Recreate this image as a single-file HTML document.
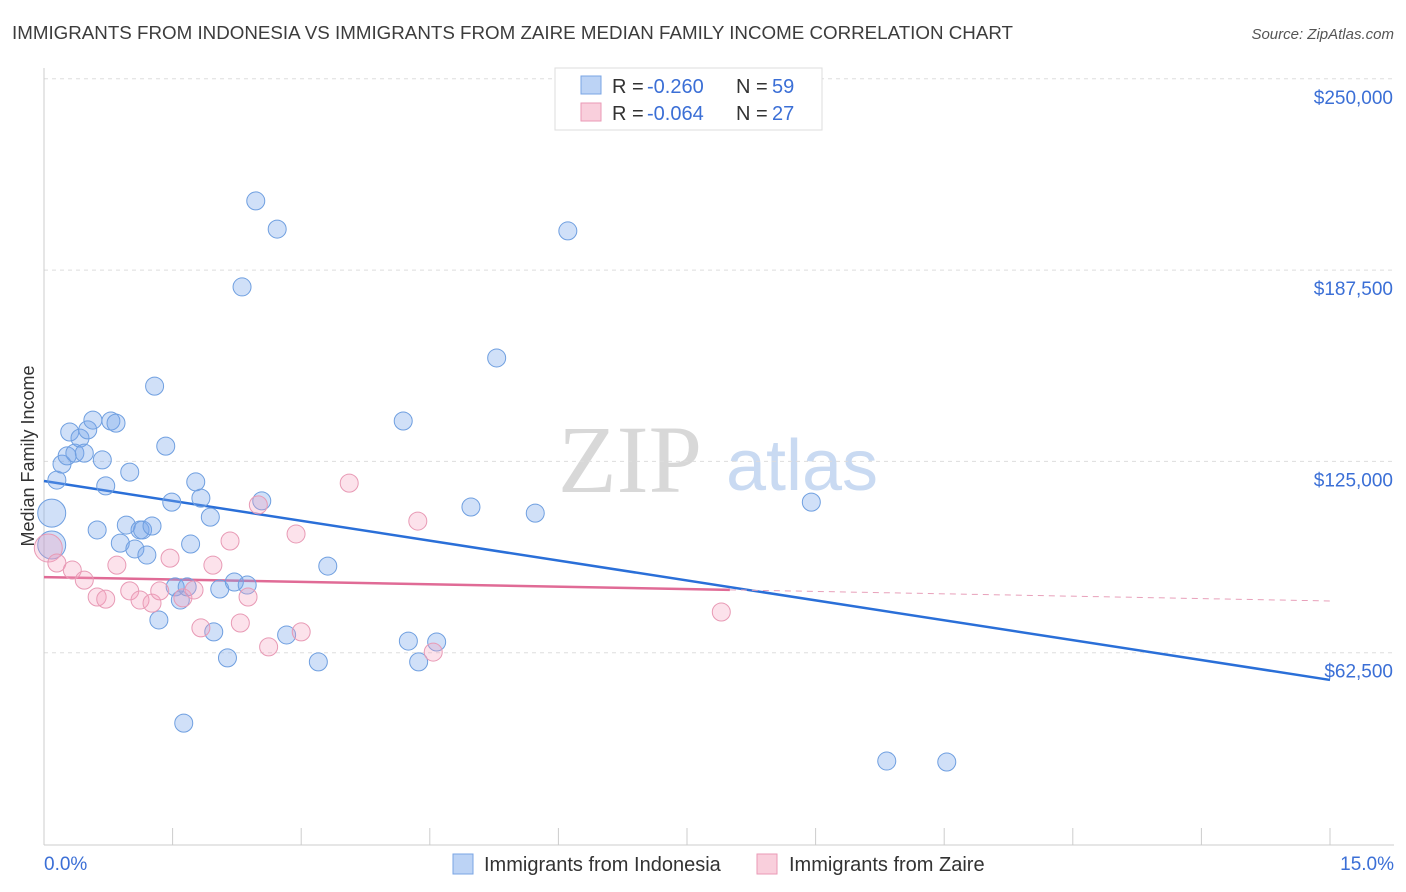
<!DOCTYPE html>
<html><head><meta charset="utf-8"><style>
body{margin:0;background:#fff;font-family:"Liberation Sans",sans-serif;}
svg{display:block}
</style></head><body>
<svg id="chart" width="1406" height="892">
<text x="12" y="39" font-size="18" fill="#3c3c3c" textLength="1001" lengthAdjust="spacingAndGlyphs">IMMIGRANTS FROM INDONESIA VS IMMIGRANTS FROM ZAIRE MEDIAN FAMILY INCOME CORRELATION CHART</text>
<text x="1394" y="39" font-size="15" fill="#555" font-style="italic" text-anchor="end">Source: ZipAtlas.com</text>
<text x="630" y="492" font-size="96" fill="#d8d8d8" font-family="Liberation Serif" text-anchor="middle">ZIP</text>
<text x="802" y="490" font-size="72" fill="#c9daf2" text-anchor="middle">atlas</text>
<text transform="translate(34,456) rotate(-90)" font-size="18" fill="#333" text-anchor="middle">Median Family Income</text>
<g id="grid"></g><g id="axes"></g><g id="trends"></g><g id="pts"></g>
<g>
<rect x="555" y="68" width="267" height="62" fill="#fff" stroke="#ddd"/>
<rect x="581" y="76" width="20" height="18" fill="#bcd3f5" stroke="#7aa4e4"/>
<text y="93" font-size="20" fill="#333"><tspan x="612">R =</tspan><tspan x="647" fill="#3b6fd6">-0.260</tspan><tspan x="736">N =</tspan><tspan x="772" fill="#3b6fd6">59</tspan></text>
<rect x="581" y="103" width="20" height="18" fill="#f9cfdc" stroke="#ea9ab6"/>
<text y="120" font-size="20" fill="#333"><tspan x="612">R =</tspan><tspan x="647" fill="#3b6fd6">-0.064</tspan><tspan x="736">N =</tspan><tspan x="772" fill="#3b6fd6">27</tspan></text>
</g>
<g>
<rect x="453" y="854" width="20" height="20" fill="#bcd3f5" stroke="#7aa4e4"/>
<text x="484" y="871" font-size="20" fill="#333">Immigrants from Indonesia</text>
<rect x="757" y="854" width="20" height="20" fill="#f9cfdc" stroke="#ea9ab6"/>
<text x="789" y="871" font-size="20" fill="#333">Immigrants from Zaire</text>
</g>
</svg>
<script>
const blueX=[0.09,0.09,0.15,0.21,0.27,0.30,0.36,0.42,0.47,0.51,0.57,0.62,0.68,0.72,0.78,0.84,0.89,0.96,1.00,1.06,1.12,1.15,1.20,1.26,1.29,1.34,1.42,1.49,1.53,1.59,1.63,1.67,1.71,1.77,1.83,1.94,1.98,2.05,2.14,2.22,2.31,2.37,2.47,2.54,2.72,2.83,3.20,3.31,4.19,4.25,4.37,4.58,4.98,5.28,5.73,6.11,8.95,9.83,10.53];
const blueY=[108100,97700,118900,124100,126800,134600,127700,132600,127700,135300,138500,102600,125500,117000,138200,137500,98300,104200,121500,96400,102600,102600,94400,103900,149600,73200,130000,111700,84000,79700,39500,84000,98000,118300,113000,106800,69300,83300,60800,85600,182000,84600,210100,112100,200900,68300,59500,90800,138200,66300,59500,66000,110100,158800,108100,200300,111700,27100,26800];
const pinkX=[0.05,0.15,0.33,0.47,0.62,0.72,0.85,1.00,1.12,1.26,1.35,1.47,1.62,1.75,1.83,1.97,2.17,2.29,2.38,2.50,2.62,2.94,3.00,3.56,4.36,4.54,7.90];
const pinkY=[96700,91800,89500,86200,80700,80000,91100,82700,79700,78700,82700,93400,80400,83000,70600,91100,99000,72200,80700,110800,64400,101300,69300,117900,105500,62700,75800];
const yTicks=[62500,125000,187500,250000];
const yTickLabels=["$62,500","$125,000","$187,500","$250,000"];
const blueTrend=[118600,53600];
const pinkTrend=[87200,79400];
const pinkSolidEnd=8.0;
const NS="http://www.w3.org/2000/svg";
const sx=p=>44+p/15*1286;
const sy=v=>844-v/62500*191.3;
function mk(t,a,parent){const e=document.createElementNS(NS,t);for(const k in a)e.setAttribute(k,a[k]);document.getElementById(parent).appendChild(e);return e;}
yTicks.forEach((v,i)=>{
 const l=mk('line',{x1:44,x2:1394,y1:sy(v),y2:sy(v),stroke:'#ddd','stroke-dasharray':'4,4'},'grid');
 
 
 const t=mk('text',{x:1393,y:sy(v)+25,'font-size':19,fill:'#3b6fd6','text-anchor':'end'},'grid');
 t.textContent=yTickLabels[i];
 
 
});
mk('line',{x1:44,x2:44,y1:68,y2:845,stroke:'#ccc'},'axes');
mk('line',{x1:44,x2:1394,y1:845,y2:845,stroke:'#ccc'},'axes');
for(let i=0;i<=10;i++){mk('line',{x1:sx(i*1.5),x2:sx(i*1.5),y1:828,y2:845,stroke:'#ccc'},'axes');}
let t0=mk('text',{x:44,y:870,'font-size':19,fill:'#3b6fd6'},'axes');t0.textContent='0.0%';


let t1=mk('text',{x:1394,y:870,'font-size':19,fill:'#3b6fd6','text-anchor':'end'},'axes');t1.textContent='15.0%';


blueX.forEach((x,i)=>{
 const r=(i<2)?14:9;
 const c=mk('circle',{cx:sx(x),cy:sy(blueY[i]),r:r,fill:'rgba(120,165,235,0.35)',stroke:'#6f9fe0','stroke-width':1},'pts');
 
 
});
pinkX.forEach((x,i)=>{
 const r=(i<1)?14:9;
 const c=mk('circle',{cx:sx(x),cy:sy(pinkY[i]),r:r,fill:'rgba(245,160,190,0.3)',stroke:'#e89ab5','stroke-width':1},'pts');
 
 
});
const bl=mk('line',{x1:sx(0),y1:sy(blueTrend[0]),x2:sx(15),y2:sy(blueTrend[1]),stroke:'#2a6fd8','stroke-width':2.5},'trends');


const pm=pinkTrend[0]+(pinkTrend[1]-pinkTrend[0])*pinkSolidEnd/15;
const pl=mk('line',{x1:sx(0),y1:sy(pinkTrend[0]),x2:sx(pinkSolidEnd),y2:sy(pm),stroke:'#e06b96','stroke-width':2.5},'trends');


const pd=mk('line',{x1:sx(pinkSolidEnd),y1:sy(pm),x2:sx(15),y2:sy(pinkTrend[1]),stroke:'#e8a0ba','stroke-width':1,'stroke-dasharray':'6,5'},'trends');


</script>
</body></html>
